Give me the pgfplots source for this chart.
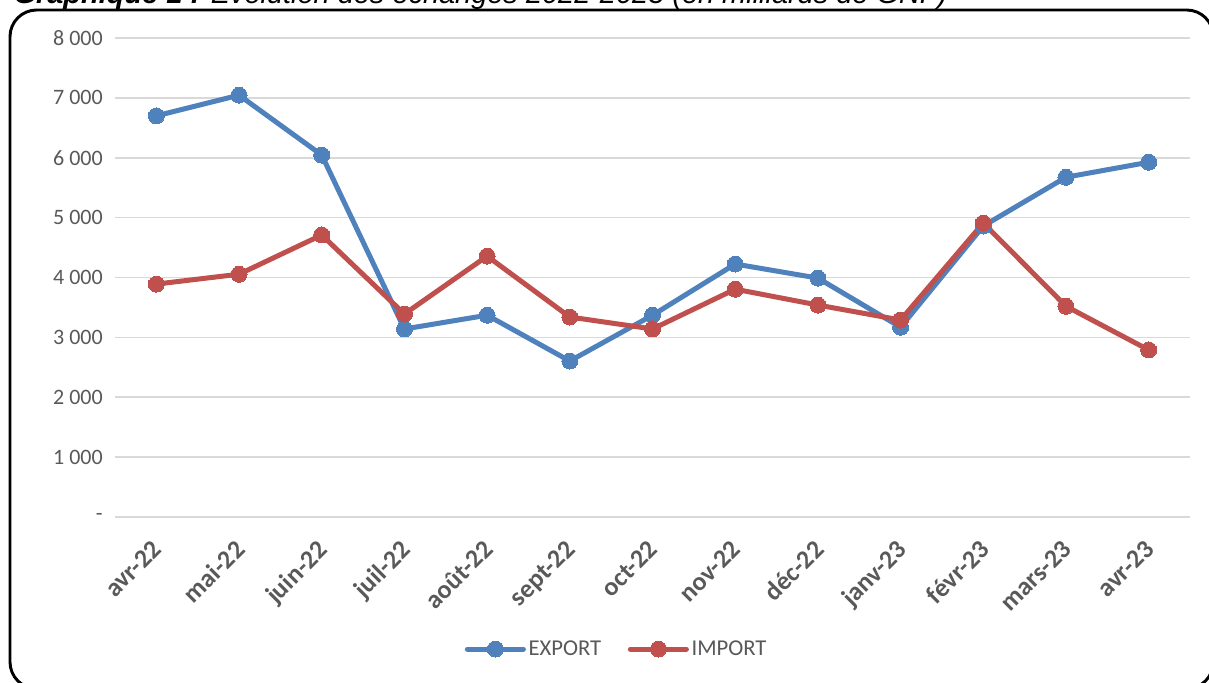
\documentclass[border=0pt]{standalone}
\usepackage{pgfplots}
\pgfplotsset{compat=1.18}
\usepackage{fontspec}
\setmainfont{Carlito}
\newfontfamily\arialfont{Liberation Sans}
\definecolor{cblue}{HTML}{4F81BD}
\definecolor{cred}{HTML}{C0504D}
\definecolor{cgrid}{HTML}{D9D9D9}
\definecolor{ctext}{HTML}{595959}
\begin{document}
\begin{tikzpicture}
\clip (0pt,0pt) rectangle (906.75pt,511.5pt);
\fill[white] (0pt,0pt) rectangle (906.75pt,511.5pt);
\node[anchor=base west, inner sep=0pt, font=\arialfont\fontsize{21.7}{24}\selectfont\itshape] at (10pt,508.5pt) {\textbf{Graphique 1 :} Evolution des échanges 2022-2023 (en milliards de GNF)};
\draw[black, line width=2.2pt, rounded corners=20pt] (7.5pt,504pt) rectangle (910pt,-5pt);
\begin{axis}[
  at={(86.25pt,123.75pt)}, anchor=south west,
  scale only axis, width=806.25pt, height=359.25pt,
  xmin=-0.5, xmax=12.5, ymin=0, ymax=8000,
  axis line style={draw=none},
  tick style={draw=none},
  ymajorgrids, grid style={cgrid, line width=1.2pt},
  ytick={0,1000,2000,3000,4000,5000,6000,7000,8000},
  yticklabels={-,1 000,2 000,3 000,4 000,5 000,6 000,7 000,8 000},
  yticklabel style={font=\fontsize{16.5}{18}\selectfont, text=ctext, inner sep=0pt, xshift=-9pt, anchor=east},
  xtick={0,...,12},
  xticklabels={avr-22,mai-22,juin-22,juil-22,août-22,sept-22,oct-22,nov-22,déc-22,janv-23,févr-23,mars-23,avr-23},
  xticklabel style={font=\fontsize{19.5}{21}\selectfont\bfseries, text=ctext, inner sep=0pt, xshift=-4pt, yshift=-16pt, rotate=45, anchor=north east},
  legend columns=2,
  legend style={at={(0.467,-0.2756)}, anchor=center, draw=none, fill=none,
    font=\fontsize{17}{19}\selectfont, text=ctext,
    /tikz/every even column/.append style={column sep=18pt}},
  legend cell align=left,
  legend image code/.code={\draw[#1, mark repeat=2, mark phase=2] plot coordinates {(0pt,0pt) (21pt,0pt) (42pt,0pt)};},
  clip=false,
]
\addplot[cblue, line width=3.75pt, line cap=round, line join=round, mark=*, mark size=6pt, mark options={fill=cblue, draw=cblue, line width=0pt}]
coordinates {(0,6700) (1,7045) (2,6045) (3,3140) (4,3370) (5,2605) (6,3370) (7,4225) (8,3990) (9,3170) (10,4860) (11,5675) (12,5925)};
\addlegendentry{EXPORT}
\addplot[cred, line width=3.75pt, line cap=round, line join=round, mark=*, mark size=6pt, mark options={fill=cred, draw=cred, line width=0pt}]
coordinates {(0,3890) (1,4055) (2,4710) (3,3390) (4,4357) (5,3340) (6,3140) (7,3805) (8,3540) (9,3290) (10,4910) (11,3520) (12,2790)};
\addlegendentry{IMPORT}
\end{axis}
\end{tikzpicture}
\end{document}
